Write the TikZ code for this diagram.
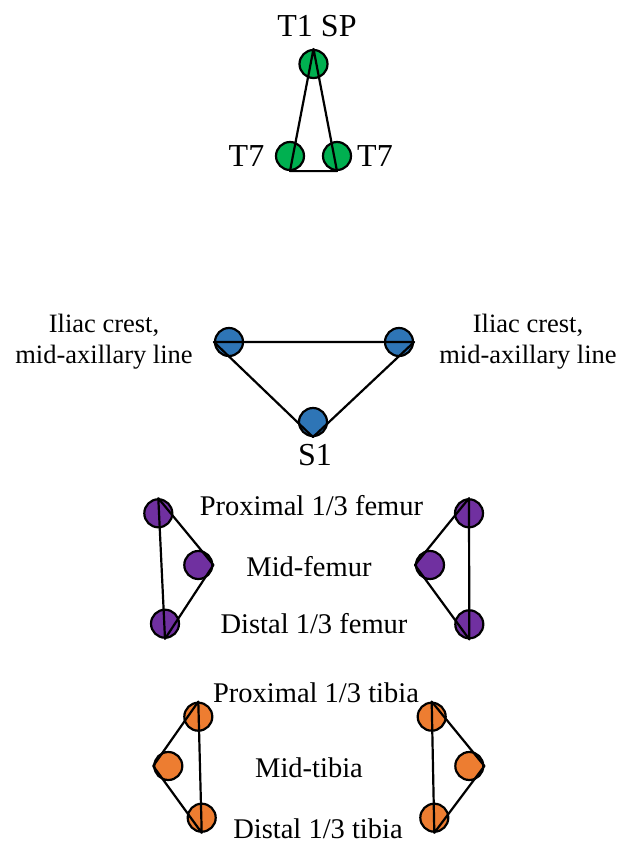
\documentclass[tikz,border=0pt]{standalone}
\usepackage{fontspec}
\setmainfont{Liberation Serif}
\definecolor{gfill}{HTML}{00B050}
\definecolor{bfill}{HTML}{2E75B6}
\definecolor{pfill}{HTML}{7030A0}
\definecolor{ofill}{HTML}{ED7D31}
\tikzset{
  marker/.style={circle, draw=black, line width=2.2pt, minimum size=28pt, inner sep=0pt, fill=#1},
  link/.style={draw=black, line width=2.2pt, line cap=round, line join=round},
  biglbl/.style={anchor=base, inner sep=0pt, font=\fontsize{32}{36}\selectfont},
  sitelbl/.style={anchor=base, inner sep=0pt, align=center, font=\fontsize{26.5}{31}\selectfont},
  leglbl/.style={anchor=base, inner sep=0pt, font=\fontsize{28.5}{32}\selectfont}
}
\begin{document}
\begin{tikzpicture}[x=1pt, y=-1pt]
\useasboundingbox (0,0) rectangle (631,843);
\fill[white] (0,0) rectangle (631,843);

% Thoracic markers
\node[marker=gfill] (t1) at (313.5,64) {};
\node[marker=gfill] (t7l) at (290,156) {};
\node[marker=gfill] (t7r) at (337,156) {};
\draw[link] (t7l.south) -- (t1.north) -- (t7r.south) -- cycle;
\node[biglbl] (t1lbl) at (317,37) {T1 SP};
\node[biglbl] (t7llbl) at (246.5,166.5) {T7};
\node[biglbl] (t7rlbl) at (375,166.5) {T7};

% Pelvic markers
\node[marker=bfill] (icl) at (229,342) {};
\node[marker=bfill] (icr) at (399,342) {};
\node[marker=bfill] (s1) at (313,422) {};
\draw[link] (icl.west) -- (icr.east) -- (s1.south) -- cycle;
\node[biglbl] (s1lbl) at (315,465.5) {S1};
% base anchor of a two-line node sits on its last line
\node[sitelbl] (icllbl) at (104,363) {Iliac crest,\\mid-axillary line};
\node[sitelbl] (icrlbl) at (528,363) {Iliac crest,\\mid-axillary line};

% Femur markers
\node[marker=pfill] (flt) at (158.3,513.3) {};
\node[marker=pfill] (flm) at (198.3,565) {};
\node[marker=pfill] (flb) at (165,623.7) {};
\draw[link] (flt.north) -- (flm.east) -- (flb.south) -- cycle;
\node[marker=pfill] (frt) at (469,513.3) {};
\node[marker=pfill] (frm) at (430,565) {};
\node[marker=pfill] (frb) at (469.3,624.3) {};
\draw[link] (frt.north) -- (frm.west) -- (frb.south) -- cycle;
\node[leglbl] (fp) at (311.5,515) {Proximal 1/3 femur};
\node[leglbl] (fm) at (309,576) {Mid-femur};
\node[leglbl] (fd) at (314,633) {Distal 1/3 femur};

% Tibia markers
\node[marker=ofill] (tlt) at (198.3,716.7) {};
\node[marker=ofill] (tlm) at (168.3,766) {};
\node[marker=ofill] (tlb) at (201.7,817.7) {};
\draw[link] (tlt.north) -- (tlm.west) -- (tlb.south) -- cycle;
\node[marker=ofill] (trt) at (431.7,716.7) {};
\node[marker=ofill] (trm) at (469.3,766) {};
\node[marker=ofill] (trb) at (434.3,817.7) {};
\draw[link] (trt.north) -- (trm.east) -- (trb.south) -- cycle;
\node[leglbl] (tp) at (316,702) {Proximal 1/3 tibia};
\node[leglbl] (tm) at (309,777) {Mid-tibia};
\node[leglbl] (td) at (318,838) {Distal 1/3 tibia};
\end{tikzpicture}
\end{document}
